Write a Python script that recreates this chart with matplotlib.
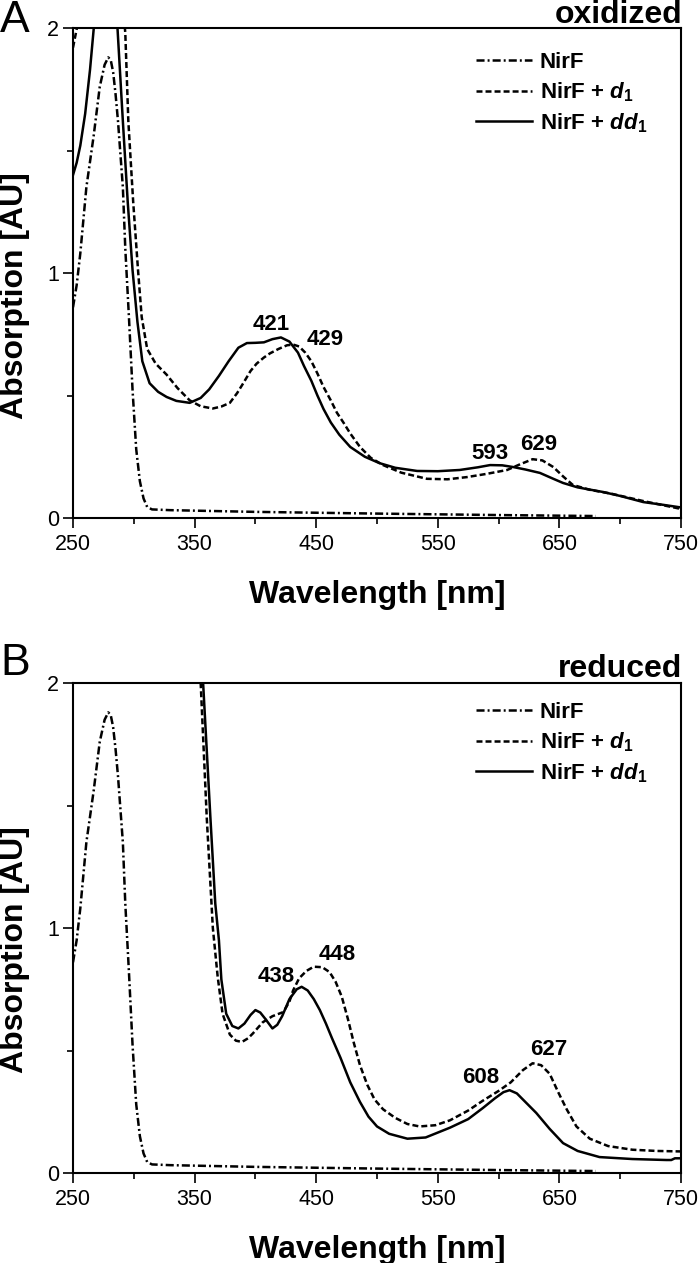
import matplotlib
matplotlib.use("Agg")
import matplotlib.pyplot as plt
import numpy as np

plt.rcParams['font.family'] = ['Liberation Sans', 'DejaVu Sans']
plt.rcParams['mathtext.fontset'] = 'custom'
plt.rcParams['mathtext.rm'] = 'Liberation Sans:bold'
plt.rcParams['mathtext.it'] = 'Liberation Sans:italic:bold'
plt.rcParams['mathtext.bf'] = 'Liberation Sans:bold'
plt.rcParams['lines.scale_dashes'] = False

# ---------------- data ----------------
# NirF alone (same spectrum in both panels)
nirf_wl = [250, 253, 256, 261, 267, 272, 276, 279, 281, 283, 285, 287, 291, 293, 296, 299,
           302, 305, 308, 311, 315, 330, 400, 500, 600, 680]
nirf_abs = [0.86, 0.95, 1.08, 1.35, 1.56, 1.76, 1.85, 1.88, 1.87, 1.82, 1.73, 1.62, 1.35, 1.10,
            0.82, 0.52, 0.28, 0.15, 0.08, 0.045, 0.035, 0.032, 0.025, 0.018, 0.012, 0.008]

# Panel A: oxidized, NirF + d1
ox_d1_wl = [250, 254, 262, 272, 282, 290, 293, 295.5, 299.5, 303.5, 306.5, 311, 318, 327, 336,
            346, 355, 365, 372, 379, 385, 390, 396, 401, 407, 412, 419, 426, 431, 436, 441,
            446, 451, 456, 462, 467, 473, 478, 486, 495, 505, 520, 541, 558, 574, 590, 607,
            618, 628, 636, 645, 653, 661, 675, 692, 720, 750]
ox_d1_abs = [1.92, 2.02, 2.30, 2.50, 2.40, 2.15, 1.98, 1.62, 1.29, 1.01, 0.82, 0.69, 0.63, 0.585,
             0.53, 0.48, 0.456, 0.447, 0.455, 0.47, 0.51, 0.55, 0.60, 0.63, 0.655, 0.672, 0.69,
             0.705, 0.708, 0.70, 0.675, 0.64, 0.59, 0.535, 0.48, 0.43, 0.385, 0.345, 0.29, 0.245,
             0.216, 0.185, 0.16, 0.158, 0.167, 0.18, 0.196, 0.22, 0.24, 0.235, 0.208, 0.17, 0.135,
             0.115, 0.10, 0.068, 0.037]

# Panel A: oxidized, NirF + dd1
ox_dd1_wl = [250, 253, 256, 260, 264, 268, 277, 286, 291, 295, 299, 303, 307, 313, 320, 327,
             335, 346, 355, 362, 370, 378, 386, 393, 400, 407, 414, 421, 428, 435, 440, 446,
             451, 456, 462, 469, 478, 490, 502, 515, 533, 550, 568, 583, 593, 603, 612, 622,
             634, 645, 653, 665, 686, 700, 719, 735, 750]
ox_dd1_abs = [1.40, 1.45, 1.52, 1.65, 1.83, 2.05, 2.40, 2.05, 1.62, 1.29, 1.01, 0.80, 0.64, 0.55,
              0.515, 0.494, 0.478, 0.47, 0.49, 0.525, 0.58, 0.64, 0.695, 0.714, 0.715, 0.717,
              0.73, 0.737, 0.72, 0.675, 0.62, 0.56, 0.50, 0.445, 0.39, 0.34, 0.29, 0.25, 0.224,
              0.205, 0.192, 0.191, 0.196, 0.207, 0.216, 0.215, 0.208, 0.198, 0.184, 0.16, 0.143,
              0.125, 0.106, 0.09, 0.065, 0.054, 0.043]

# Panel B: reduced, NirF + d1
red_d1_wl = [250, 300, 330, 345, 355, 360, 365, 369, 373, 379, 384, 389, 394, 398, 406, 414,
             423, 428, 431, 436, 442, 448, 455, 461, 466, 471, 476, 481, 486, 492, 498, 505,
             515, 525, 535, 548, 560, 575, 587, 600, 610, 620, 628, 635, 642, 649, 656, 664,
             675, 690, 710, 730, 750]
red_d1_abs = [3.8, 3.2, 2.7, 2.35, 2.0, 1.45, 1.0, 0.80, 0.65, 0.565, 0.54, 0.535, 0.55, 0.57,
              0.615, 0.64, 0.657, 0.70, 0.745, 0.795, 0.825, 0.842, 0.84, 0.82, 0.78, 0.72, 0.63,
              0.53, 0.44, 0.36, 0.30, 0.26, 0.225, 0.20, 0.19, 0.195, 0.215, 0.255, 0.295, 0.335,
              0.37, 0.42, 0.448, 0.44, 0.405, 0.33, 0.26, 0.19, 0.14, 0.11, 0.095, 0.09, 0.088]

# Panel B: reduced, NirF + dd1
red_dd1_wl = [250, 300, 330, 347, 357, 363, 367, 370, 372, 376, 381, 386, 391, 396, 400, 404,
              408, 414, 418, 422, 428, 434, 438, 443, 448, 453, 458, 463, 470, 478, 486, 493,
              500, 510, 525, 540, 560, 575, 587, 597, 604, 609, 615, 622, 631, 642, 653, 665,
              683, 710, 738, 742, 745, 750]
red_dd1_abs = [3.6, 3.0, 2.6, 2.3, 2.0, 1.45, 1.10, 0.95, 0.79, 0.65, 0.60, 0.59, 0.61, 0.645,
               0.665, 0.655, 0.63, 0.59, 0.605, 0.64, 0.71, 0.75, 0.76, 0.745, 0.71, 0.665, 0.61,
               0.55, 0.47, 0.37, 0.29, 0.23, 0.19, 0.16, 0.14, 0.145, 0.185, 0.22, 0.265, 0.305,
               0.33, 0.338, 0.325, 0.29, 0.245, 0.18, 0.122, 0.09, 0.065, 0.057, 0.053, 0.053,
               0.06, 0.06]

series_labels = ['NirF', r'NirF + $d_1$', r'NirF + $dd_1$']

xticks_major = [250, 350, 450, 550, 650, 750]
xticks_minor = [300, 400, 500, 600, 700]
yticks_major = [0, 1, 2]
yticks_minor = [0.5, 1.5]

ox_peaks = ['421', '429', '593', '629']
ox_peak_pos = [(413, 0.79), (457, 0.727), (593, 0.265), (633, 0.298)]
red_peaks = ['438', '448', '608', '627']
red_peak_pos = [(417, 0.80), (467, 0.89), (585, 0.388), (641, 0.506)]

# ---------------- figure ----------------
W, H = 700, 1263
fig = plt.figure(figsize=(W / 100, H / 100), dpi=100)

def fx(px):
    return px / W

def fy(py):
    return 1 - py / H

DASHDOT = (0, (5.8, 2.2, 1.4, 2.2))
DASHED = (0, (4.3, 2.2))
LW = 1.8

def make_panel(top_px, bot_px, curves, peaks, peak_pos, state, letter,
               state_base, letter_base, legend_top, ylab_center, xlab_base):
    ax = fig.add_axes([fx(73), fy(bot_px), fx(681) - fx(73), fy(top_px) - fy(bot_px)])
    (wl0, a0), (wl1, a1), (wl2, a2) = curves
    ax.plot(wl0, a0, color='black', lw=LW, linestyle=DASHDOT, label=series_labels[0])
    ax.plot(wl1, a1, color='black', lw=LW, linestyle=DASHED, label=series_labels[1])
    ax.plot(wl2, a2, color='black', lw=LW, linestyle='-', label=series_labels[2])
    ax.set_xlim(250, 750)
    ax.set_ylim(0, 2)
    ax.set_xticks(xticks_major)
    ax.set_xticklabels([str(v) for v in xticks_major])
    ax.set_xticks(xticks_minor, minor=True)
    ax.set_yticks(yticks_major)
    ax.set_yticklabels([str(v) for v in yticks_major])
    ax.set_yticks(yticks_minor, minor=True)
    ax.tick_params(which='major', direction='out', length=7.2, width=1.2,
                   labelsize=15.5)
    ax.tick_params(axis='x', which='major', pad=4)
    ax.tick_params(axis='y', which='major', pad=3)
    ax.tick_params(which='minor', direction='out', length=4.3, width=1.2)
    for s in ax.spines.values():
        s.set_linewidth(1.5)
    for t, (x, y) in zip(peaks, peak_pos):
        ax.text(x, y, t, ha='center', va='center', fontsize=16, fontweight='bold')
    leg = ax.legend(loc='upper left', bbox_to_anchor=(fx(476), fy(legend_top)),
                    bbox_transform=fig.transFigure, frameon=False, fontsize=16,
                    handlelength=2.5, handletextpad=0.36, labelspacing=0.33,
                    borderpad=0, borderaxespad=0)
    for txt in leg.get_texts():
        txt.set_fontweight('bold')
    fig.text(fx(682), fy(state_base), state, ha='right', va='baseline',
             fontsize=23, fontweight='bold')
    fig.text(fx(0), fy(letter_base), letter, ha='left', va='baseline', fontsize=32)
    fig.text(fx(15), fy(ylab_center), 'Absorption [AU]', rotation=90, ha='center',
             va='center', fontsize=23, fontweight='bold')
    fig.text(fx(377), fy(xlab_base), 'Wavelength [nm]', ha='center', va='baseline',
             fontsize=23, fontweight='bold')
    return ax

make_panel(28, 518,
           [(nirf_wl, nirf_abs), (ox_d1_wl, ox_d1_abs), (ox_dd1_wl, ox_dd1_abs)],
           ox_peaks, ox_peak_pos, 'oxidized', 'A',
           state_base=23, letter_base=32, legend_top=52, ylab_center=296, xlab_base=603)
make_panel(683, 1173,
           [(nirf_wl, nirf_abs), (red_d1_wl, red_d1_abs), (red_dd1_wl, red_dd1_abs)],
           red_peaks, red_peak_pos, 'reduced', 'B',
           state_base=677, letter_base=675, legend_top=702, ylab_center=950, xlab_base=1258)

fig.savefig('out.png', dpi=100)
